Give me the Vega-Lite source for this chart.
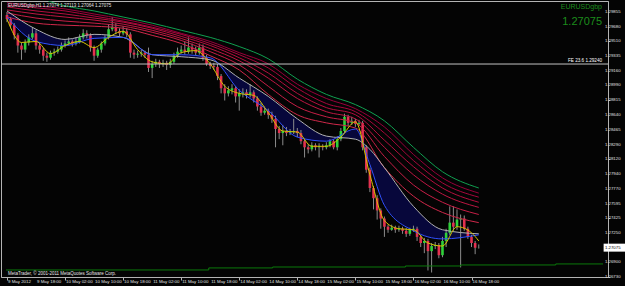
{
"$schema": "https://vega.github.io/schema/vega-lite/v6.json",
"width": 607, "height": 276,
"autosize": {"type": "none"},
"padding": {"left": 1, "top": 1, "right": 17, "bottom": 9},
"background": "#040404",
"config": {"view": {"stroke": "#b4b4b4", "fill": "#040404"}, "font": "Liberation Sans",
"axis": {"labels": false, "grid": false, "title": null}},
"datasets": {
"k": [
{"i":0,"o":1.29818,"h":1.29854,"l":1.29734,"c":1.29770},
{"i":1,"o":1.29770,"h":1.29794,"l":1.29662,"c":1.29698},
{"i":2,"o":1.29698,"h":1.29722,"l":1.29530,"c":1.29578},
{"i":3,"o":1.29578,"h":1.29602,"l":1.29374,"c":1.29458},
{"i":4,"o":1.29458,"h":1.29494,"l":1.29290,"c":1.29410},
{"i":5,"o":1.29410,"h":1.29530,"l":1.29374,"c":1.29494},
{"i":6,"o":1.29494,"h":1.29590,"l":1.29458,"c":1.29554},
{"i":7,"o":1.29554,"h":1.29674,"l":1.29530,"c":1.29602},
{"i":8,"o":1.29602,"h":1.29638,"l":1.29410,"c":1.29458},
{"i":9,"o":1.29458,"h":1.29494,"l":1.29362,"c":1.29410},
{"i":10,"o":1.29410,"h":1.29434,"l":1.29278,"c":1.29338},
{"i":11,"o":1.29338,"h":1.29374,"l":1.29266,"c":1.29314},
{"i":12,"o":1.29314,"h":1.29398,"l":1.29290,"c":1.29374},
{"i":13,"o":1.29374,"h":1.29422,"l":1.29338,"c":1.29386},
{"i":14,"o":1.29386,"h":1.29446,"l":1.29362,"c":1.29410},
{"i":15,"o":1.29410,"h":1.29494,"l":1.29386,"c":1.29458},
{"i":16,"o":1.29458,"h":1.29518,"l":1.29434,"c":1.29482},
{"i":17,"o":1.29482,"h":1.29554,"l":1.29458,"c":1.29506},
{"i":18,"o":1.29506,"h":1.29530,"l":1.29446,"c":1.29482},
{"i":19,"o":1.29482,"h":1.29554,"l":1.29458,"c":1.29506},
{"i":20,"o":1.29506,"h":1.29590,"l":1.29482,"c":1.29554},
{"i":21,"o":1.29554,"h":1.29650,"l":1.29530,"c":1.29602},
{"i":22,"o":1.29602,"h":1.29638,"l":1.29542,"c":1.29578},
{"i":23,"o":1.29578,"h":1.29602,"l":1.29386,"c":1.29434},
{"i":24,"o":1.29434,"h":1.29458,"l":1.29278,"c":1.29338},
{"i":25,"o":1.29338,"h":1.29434,"l":1.29314,"c":1.29410},
{"i":26,"o":1.29410,"h":1.29506,"l":1.29374,"c":1.29482},
{"i":27,"o":1.29482,"h":1.29578,"l":1.29458,"c":1.29554},
{"i":28,"o":1.29554,"h":1.29710,"l":1.29530,"c":1.29650},
{"i":29,"o":1.29650,"h":1.29794,"l":1.29626,"c":1.29674},
{"i":30,"o":1.29674,"h":1.29722,"l":1.29590,"c":1.29626},
{"i":31,"o":1.29626,"h":1.29662,"l":1.29566,"c":1.29602},
{"i":32,"o":1.29602,"h":1.29686,"l":1.29578,"c":1.29626},
{"i":33,"o":1.29626,"h":1.29662,"l":1.29554,"c":1.29590},
{"i":34,"o":1.29590,"h":1.29614,"l":1.29314,"c":1.29374},
{"i":35,"o":1.29374,"h":1.29410,"l":1.29302,"c":1.29350},
{"i":36,"o":1.29350,"h":1.29398,"l":1.29314,"c":1.29362},
{"i":37,"o":1.29362,"h":1.29410,"l":1.29326,"c":1.29374},
{"i":38,"o":1.29374,"h":1.29398,"l":1.29314,"c":1.29350},
{"i":39,"o":1.29350,"h":1.29434,"l":1.29146,"c":1.29194},
{"i":40,"o":1.29194,"h":1.29278,"l":1.29074,"c":1.29242},
{"i":41,"o":1.29242,"h":1.29302,"l":1.29206,"c":1.29266},
{"i":42,"o":1.29266,"h":1.29290,"l":1.29194,"c":1.29242},
{"i":43,"o":1.29242,"h":1.29290,"l":1.29206,"c":1.29254},
{"i":44,"o":1.29254,"h":1.29278,"l":1.29170,"c":1.29230},
{"i":45,"o":1.29230,"h":1.29302,"l":1.29194,"c":1.29266},
{"i":46,"o":1.29266,"h":1.29374,"l":1.29242,"c":1.29338},
{"i":47,"o":1.29338,"h":1.29434,"l":1.29314,"c":1.29386},
{"i":48,"o":1.29386,"h":1.29458,"l":1.29362,"c":1.29410},
{"i":49,"o":1.29410,"h":1.29506,"l":1.29350,"c":1.29386},
{"i":50,"o":1.29386,"h":1.29554,"l":1.29362,"c":1.29434},
{"i":51,"o":1.29434,"h":1.29482,"l":1.29362,"c":1.29410},
{"i":52,"o":1.29410,"h":1.29446,"l":1.29338,"c":1.29374},
{"i":53,"o":1.29374,"h":1.29482,"l":1.29350,"c":1.29434},
{"i":54,"o":1.29434,"h":1.29470,"l":1.29278,"c":1.29314},
{"i":55,"o":1.29314,"h":1.29350,"l":1.29218,"c":1.29242},
{"i":56,"o":1.29242,"h":1.29266,"l":1.29182,"c":1.29218},
{"i":57,"o":1.29218,"h":1.29254,"l":1.29170,"c":1.29206},
{"i":58,"o":1.29206,"h":1.29242,"l":1.29050,"c":1.29098},
{"i":59,"o":1.29098,"h":1.29122,"l":1.28894,"c":1.28954},
{"i":60,"o":1.28954,"h":1.29002,"l":1.28810,"c":1.28894},
{"i":61,"o":1.28894,"h":1.28978,"l":1.28858,"c":1.28930},
{"i":62,"o":1.28930,"h":1.29002,"l":1.28882,"c":1.28954},
{"i":63,"o":1.28954,"h":1.28978,"l":1.28786,"c":1.28858},
{"i":64,"o":1.28858,"h":1.28942,"l":1.28690,"c":1.28894},
{"i":65,"o":1.28894,"h":1.28954,"l":1.28846,"c":1.28906},
{"i":66,"o":1.28906,"h":1.28942,"l":1.28834,"c":1.28882},
{"i":67,"o":1.28882,"h":1.29002,"l":1.28846,"c":1.28906},
{"i":68,"o":1.28906,"h":1.28930,"l":1.28786,"c":1.28834},
{"i":69,"o":1.28834,"h":1.28858,"l":1.28690,"c":1.28738},
{"i":70,"o":1.28738,"h":1.28786,"l":1.28630,"c":1.28666},
{"i":71,"o":1.28666,"h":1.28738,"l":1.28642,"c":1.28690},
{"i":72,"o":1.28690,"h":1.28714,"l":1.28594,"c":1.28642},
{"i":73,"o":1.28642,"h":1.28678,"l":1.28546,"c":1.28594},
{"i":74,"o":1.28594,"h":1.28630,"l":1.28258,"c":1.28474},
{"i":75,"o":1.28474,"h":1.28510,"l":1.28354,"c":1.28426},
{"i":76,"o":1.28426,"h":1.28522,"l":1.28282,"c":1.28450},
{"i":77,"o":1.28450,"h":1.28498,"l":1.28390,"c":1.28426},
{"i":78,"o":1.28426,"h":1.28474,"l":1.28402,"c":1.28438},
{"i":79,"o":1.28438,"h":1.28594,"l":1.28414,"c":1.28450},
{"i":80,"o":1.28450,"h":1.28486,"l":1.28378,"c":1.28426},
{"i":81,"o":1.28426,"h":1.28462,"l":1.28294,"c":1.28330},
{"i":82,"o":1.28330,"h":1.28354,"l":1.28138,"c":1.28258},
{"i":83,"o":1.28258,"h":1.28294,"l":1.28186,"c":1.28234},
{"i":84,"o":1.28234,"h":1.28318,"l":1.28210,"c":1.28282},
{"i":85,"o":1.28282,"h":1.28306,"l":1.28222,"c":1.28258},
{"i":86,"o":1.28258,"h":1.28306,"l":1.28138,"c":1.28270},
{"i":87,"o":1.28270,"h":1.28294,"l":1.28222,"c":1.28258},
{"i":88,"o":1.28258,"h":1.28318,"l":1.28234,"c":1.28282},
{"i":89,"o":1.28282,"h":1.28354,"l":1.28258,"c":1.28330},
{"i":90,"o":1.28330,"h":1.28354,"l":1.28234,"c":1.28258},
{"i":91,"o":1.28258,"h":1.28390,"l":1.28222,"c":1.28354},
{"i":92,"o":1.28354,"h":1.28486,"l":1.28330,"c":1.28450},
{"i":93,"o":1.28450,"h":1.28654,"l":1.28426,"c":1.28618},
{"i":94,"o":1.28618,"h":1.28642,"l":1.28510,"c":1.28546},
{"i":95,"o":1.28546,"h":1.28618,"l":1.28522,"c":1.28570},
{"i":96,"o":1.28570,"h":1.28594,"l":1.28498,"c":1.28534},
{"i":97,"o":1.28534,"h":1.28582,"l":1.28510,"c":1.28546},
{"i":98,"o":1.28546,"h":1.28570,"l":1.28222,"c":1.28258},
{"i":99,"o":1.28258,"h":1.28282,"l":1.27958,"c":1.27994},
{"i":100,"o":1.27994,"h":1.28018,"l":1.27730,"c":1.27778},
{"i":101,"o":1.27778,"h":1.27802,"l":1.27526,"c":1.27658},
{"i":102,"o":1.27658,"h":1.27694,"l":1.27406,"c":1.27514},
{"i":103,"o":1.27514,"h":1.27538,"l":1.27298,"c":1.27418},
{"i":104,"o":1.27418,"h":1.27442,"l":1.27202,"c":1.27322},
{"i":105,"o":1.27322,"h":1.27346,"l":1.27250,"c":1.27286},
{"i":106,"o":1.27286,"h":1.27346,"l":1.27274,"c":1.27310},
{"i":107,"o":1.27310,"h":1.27334,"l":1.27250,"c":1.27286},
{"i":108,"o":1.27286,"h":1.27334,"l":1.27262,"c":1.27298},
{"i":109,"o":1.27298,"h":1.27322,"l":1.27238,"c":1.27274},
{"i":110,"o":1.27274,"h":1.27310,"l":1.27202,"c":1.27238},
{"i":111,"o":1.27238,"h":1.27310,"l":1.27214,"c":1.27286},
{"i":112,"o":1.27286,"h":1.27334,"l":1.27262,"c":1.27298},
{"i":113,"o":1.27298,"h":1.27322,"l":1.27154,"c":1.27202},
{"i":114,"o":1.27202,"h":1.27226,"l":1.27082,"c":1.27130},
{"i":115,"o":1.27130,"h":1.27190,"l":1.27010,"c":1.27154},
{"i":116,"o":1.27154,"h":1.27178,"l":1.26806,"c":1.27034},
{"i":117,"o":1.27034,"h":1.27130,"l":1.26782,"c":1.27094},
{"i":118,"o":1.27094,"h":1.27142,"l":1.27058,"c":1.27106},
{"i":119,"o":1.27106,"h":1.27130,"l":1.26950,"c":1.26986},
{"i":120,"o":1.26986,"h":1.27202,"l":1.26962,"c":1.27154},
{"i":121,"o":1.27154,"h":1.27298,"l":1.27082,"c":1.27250},
{"i":122,"o":1.27250,"h":1.27562,"l":1.27226,"c":1.27370},
{"i":123,"o":1.27370,"h":1.27562,"l":1.27274,"c":1.27322},
{"i":124,"o":1.27322,"h":1.27526,"l":1.27286,"c":1.27406},
{"i":125,"o":1.27406,"h":1.27466,"l":1.26842,"c":1.27418},
{"i":126,"o":1.27418,"h":1.27454,"l":1.27274,"c":1.27298},
{"i":127,"o":1.27298,"h":1.27322,"l":1.27178,"c":1.27202},
{"i":128,"o":1.27202,"h":1.27226,"l":1.27082,"c":1.27130},
{"i":129,"o":1.27130,"h":1.27154,"l":1.26998,"c":1.27074},
{"i":130,"o":1.27074,"h":1.27113,"l":1.27064,"c":1.27075}
],
"ma": [
{"i":0,"g":1.30154,"r1":1.29962,"r2":1.29938,"r3":1.29914,"r4":1.29878,"r5":1.29842,"r6":1.29794,"w":1.29866,"b":1.29794},
{"i":8,"g":1.30058,"r1":1.29926,"r2":1.29902,"r3":1.29866,"r4":1.29830,"r5":1.29782,"r6":1.29722,"w":1.29650,"b":1.29506},
{"i":12,"g":1.29974},
{"i":16,"g":1.29926,"r1":1.29890,"r2":1.29866,"r3":1.29830,"r4":1.29794,"r5":1.29746,"r6":1.29698,"w":1.29530,"b":1.29458},
{"i":24,"g":1.29866,"r1":1.29830,"r2":1.29806,"r3":1.29782,"r4":1.29758,"r5":1.29722,"r6":1.29686,"w":1.29590,"b":1.29542},
{"i":32,"g":1.29794,"r1":1.29770,"r2":1.29746,"r3":1.29734,"r4":1.29710,"r5":1.29686,"r6":1.29662,"w":1.29554,"b":1.29554},
{"i":40,"g":1.29722,"r1":1.29698,"r2":1.29674,"r3":1.29662,"r4":1.29638,"r5":1.29614,"r6":1.29578,"w":1.29350,"b":1.29350},
{"i":48,"g":1.29638,"r1":1.29602,"r2":1.29590,"r3":1.29566,"r4":1.29542,"r5":1.29518,"r6":1.29482,"w":1.29326,"b":1.29350},
{"i":56,"g":1.29554,"r1":1.29506,"r2":1.29482,"r3":1.29458,"r4":1.29422,"r5":1.29386,"r6":1.29338,"w":1.29290,"b":1.29314},
{"i":64,"g":1.29446,"r1":1.29374,"r2":1.29350,"r3":1.29314,"r4":1.29278,"r5":1.29230,"r6":1.29170,"w":1.29074,"b":1.28930},
{"i":72,"g":1.29302,"r1":1.29242,"r2":1.29194,"r3":1.29134,"r4":1.29074,"r5":1.28978,"r6":1.28882,"w":1.28858,"b":1.28690},
{"i":80,"g":1.29062,"r1":1.29002,"r2":1.28954,"r3":1.28894,"r4":1.28834,"r5":1.28738,"r6":1.28642,"w":1.28594,"b":1.28378},
{"i":88,"g":1.28882,"r1":1.28834,"r2":1.28774,"r3":1.28726,"r4":1.28678,"r5":1.28618,"r6":1.28546,"w":1.28390,"b":1.28330},
{"i":96,"g":1.28762,"r1":1.28714,"r2":1.28678,"r3":1.28642,"r4":1.28594,"r5":1.28546,"r6":1.28486,"w":1.28354,"b":1.28474},
{"i":100,"w":1.28234,"b":1.28054},
{"i":104,"g":1.28570,"r1":1.28498,"r2":1.28426,"r3":1.28342,"r4":1.28258,"r5":1.28150,"r6":1.28018,"w":1.28018,"b":1.27574},
{"i":112,"g":1.28258,"r1":1.28174,"r2":1.28102,"r3":1.28030,"r4":1.27934,"r5":1.27814,"r6":1.27682,"w":1.27562,"b":1.27274},
{"i":120,"g":1.27970,"r1":1.27898,"r2":1.27838,"r3":1.27778,"r4":1.27706,"r5":1.27610,"r6":1.27490,"w":1.27286,"b":1.27178},
{"i":130,"g":1.27778,"r1":1.27718,"r2":1.27670,"r3":1.27610,"r4":1.27550,"r5":1.27466,"r6":1.27370,"w":1.27238,"b":1.27226}
],
"yl": [
{"i":0,"v":1.29770},{"i":4,"v":1.29494},{"i":8,"v":1.29506},{"i":12,"v":1.29362},{"i":16,"v":1.29458},
{"i":20,"v":1.29506},{"i":24,"v":1.29434},{"i":28,"v":1.29554},{"i":32,"v":1.29626},{"i":36,"v":1.29410},
{"i":40,"v":1.29266},{"i":44,"v":1.29242},{"i":48,"v":1.29374},{"i":52,"v":1.29398},{"i":56,"v":1.29242},
{"i":60,"v":1.28978},{"i":64,"v":1.28894},{"i":68,"v":1.28870},{"i":72,"v":1.28666},{"i":76,"v":1.28450},
{"i":80,"v":1.28438},{"i":84,"v":1.28270},{"i":88,"v":1.28270},{"i":92,"v":1.28378},{"i":96,"v":1.28558},
{"i":100,"v":1.27934},{"i":104,"v":1.27394},{"i":108,"v":1.27298},{"i":112,"v":1.27286},{"i":116,"v":1.27130},
{"i":120,"v":1.27094},{"i":124,"v":1.27322},{"i":128,"v":1.27250},{"i":130,"v":1.27154}
],
"base": [
{"i":-0.27,"v":1.26812},{"i":55.6,"v":1.26836},{"i":73.2,"v":1.26847},{"i":109.8,"v":1.26859},
{"i":125,"v":1.26871},{"i":151.2,"v":1.26883},{"i":164.23,"v":1.26883}
],
"xt": [
{"i":0,"t":"9 May 2012"},{"i":8,"t":"9 May 18:00"},{"i":16,"t":"10 May 02:00"},{"i":24,"t":"10 May 10:00"},
{"i":32,"t":"10 May 18:00"},{"i":40,"t":"11 May 02:00"},{"i":48,"t":"11 May 10:00"},{"i":56,"t":"11 May 18:00"},
{"i":64,"t":"14 May 02:00"},{"i":72,"t":"14 May 10:00"},{"i":80,"t":"14 May 18:00"},{"i":88,"t":"15 May 02:00"},
{"i":96,"t":"15 May 10:00"},{"i":104,"t":"15 May 18:00"},{"i":112,"t":"16 May 02:00"},{"i":120,"t":"16 May 10:00"},
{"i":128,"t":"16 May 18:00"}
],
"yt": [
{"p":1.26730},{"p":1.26900},{"p":1.27250},{"p":1.27425},{"p":1.27595},{"p":1.27770},{"p":1.27940},
{"p":1.28120},{"p":1.28290},{"p":1.28465},{"p":1.28640},{"p":1.28815},{"p":1.28990},{"p":1.29160},
{"p":1.29335},{"p":1.29510},{"p":1.29680},{"p":1.29855}
]
},
"layer": [
{
"data": {"name": "ma"},
"transform": [{"filter": "isValid(datum.w) && isValid(datum.b)"}],
"mark": {"type": "area", "color": "#0a0a60", "opacity": 0.6, "interpolate": "monotone"},
"encoding": {
"x": {"field": "i", "type": "quantitative", "title": null,
"scale": {"domain": [-0.27, 164.23], "nice": false, "zero": false},
"axis": {"values": [0,8,16,24,32,40,48,56,64,72,80,88,96,104,112,120,128],
"labels": false, "tickSize": 3, "tickColor": "#b4b4b4", "domainColor": "#b4b4b4", "grid": false, "title": null}},
"y": {"field": "w", "type": "quantitative", "title": null,
"scale": {"domain": [1.26729, 1.29983], "nice": false, "zero": false},
"axis": {"orient": "right", "values": [1.26730,1.26900,1.27075,1.27250,1.27425,1.27595,1.27770,1.27940,1.28120,1.28290,1.28465,1.28640,1.28815,1.28990,1.29160,1.29335,1.29510,1.29680,1.29855],
"labels": false, "tickSize": 2, "tickColor": "#b4b4b4", "domainColor": "#b4b4b4", "grid": false, "title": null}},
"y2": {"field": "b"}
}
},
{
"data": {"name": "k"},
"mark": {"type": "rule", "color": "#8c8c8c", "strokeWidth": 1},
"encoding": {
"x": {"field": "i", "type": "quantitative", "title": null, "scale": {"domain": [-0.27, 164.23], "nice": false, "zero": false}},
"y": {"field": "l", "type": "quantitative", "title": null, "scale": {"domain": [1.26729, 1.29983], "nice": false, "zero": false}},
"y2": {"field": "h"}
}
},
{
"data": {"name": "k"},
"mark": {"type": "bar", "size": 2.6},
"encoding": {
"x": {"field": "i", "type": "quantitative", "title": null, "scale": {"domain": [-0.27, 164.23], "nice": false, "zero": false}},
"y": {"field": "o", "type": "quantitative", "title": null, "scale": {"domain": [1.26729, 1.29983], "nice": false, "zero": false}},
"y2": {"field": "c"},
"color": {"condition": {"test": "datum.c >= datum.o", "value": "#2fd23a"}, "value": "#e3314f"}
}
},
{
"data": {"name": "ma"},
"transform": [{"fold": ["g","r1","r2","r3","r4","r5","r6","w","b"], "as": ["s","v"]}, {"filter": "isValid(datum.v)"}],
"mark": {"type": "line", "strokeWidth": 1, "interpolate": "monotone", "clip": true},
"encoding": {
"x": {"field": "i", "type": "quantitative", "title": null, "scale": {"domain": [-0.27, 164.23], "nice": false, "zero": false}},
"y": {"field": "v", "type": "quantitative", "title": null, "scale": {"domain": [1.26729, 1.29983], "nice": false, "zero": false}},
"color": {"field": "s", "type": "nominal", "legend": null,
"scale": {"domain": ["g","r1","r2","r3","r4","r5","r6","w","b"],
"range": ["#10a050","#98003a","#a8063c","#b40e3e","#bc1642","#c61e46","#d0284a","#b0b0b0","#3050ff"]}}
}
},
{
"data": {"name": "yl"},
"mark": {"type": "line", "color": "#d6c400", "strokeWidth": 1, "interpolate": "monotone"},
"encoding": {
"x": {"field": "i", "type": "quantitative", "title": null, "scale": {"domain": [-0.27, 164.23], "nice": false, "zero": false}},
"y": {"field": "v", "type": "quantitative", "title": null, "scale": {"domain": [1.26729, 1.29983], "nice": false, "zero": false}}
}
},
{
"data": {"name": "base"},
"mark": {"type": "line", "color": "#0b7a0b", "strokeWidth": 1, "interpolate": "step-after", "clip": true},
"encoding": {
"x": {"field": "i", "type": "quantitative", "title": null, "scale": {"domain": [-0.27, 164.23], "nice": false, "zero": false}},
"y": {"field": "v", "type": "quantitative", "title": null, "scale": {"domain": [1.26729, 1.29983], "nice": false, "zero": false}}
}
},
{
"data": {"values": [{"level": 1.29240, "label": "FE 23.6 1.29240"}]},
"layer": [
{"mark": {"type": "rule", "color": "#c4c4c4", "strokeWidth": 1},
"encoding": {"y": {"field": "level", "type": "quantitative", "title": null, "scale": {"domain": [1.26729, 1.29983], "nice": false, "zero": false}}}},
{"mark": {"type": "text", "align": "right", "baseline": "bottom", "dy": -1, "dx": -1, "fontSize": 4.6, "color": "#ffffff"},
"encoding": {"x": {"datum": 164.23, "type": "quantitative"},
"y": {"field": "level", "type": "quantitative"}, "text": {"field": "label"}}}
]
},
{
"data": {"name": "xt"},
"mark": {"type": "text", "align": "left", "baseline": "top", "dx": 1, "dy": 3, "fontSize": 4.4, "color": "#e0e0e0"},
"encoding": {"x": {"field": "i", "type": "quantitative"}, "y": {"datum": 1.26729, "type": "quantitative"}, "text": {"field": "t"}}
},
{
"data": {"name": "yt"},
"mark": {"type": "text", "align": "left", "baseline": "middle", "dx": 2, "fontSize": 4.3, "color": "#e0e0e0"},
"encoding": {"x": {"datum": 164.23, "type": "quantitative"}, "y": {"field": "p", "type": "quantitative"}, "text": {"field": "p", "format": ".5f"}}
},
{
"data": {"values": [{"t": "EURUSDgbp,H1 1.27074 1.27113 1.27064 1.27075"}]},
"mark": {"type": "text", "align": "left", "baseline": "top", "dx": 2, "dy": 1.5, "fontSize": 4.5, "color": "#e6e6e6"},
"encoding": {"x": {"datum": -0.27, "type": "quantitative"}, "y": {"datum": 1.29983, "type": "quantitative"}, "text": {"field": "t"}}
},
{
"data": {"values": [{"t": "MetaTrader, © 2001-2011 MetaQuotes Software Corp."}]},
"mark": {"type": "text", "align": "left", "baseline": "bottom", "dx": 2, "dy": -1, "fontSize": 4.5, "color": "#e6e6e6"},
"encoding": {"x": {"datum": -0.27, "type": "quantitative"}, "y": {"datum": 1.26729, "type": "quantitative"}, "text": {"field": "t"}}
},
{
"data": {"values": [{"t": "EURUSDgbp"}]},
"mark": {"type": "text", "align": "right", "baseline": "top", "dx": -1, "dy": 2, "fontSize": 7, "color": "#1c8c1c"},
"encoding": {"x": {"datum": 164.23, "type": "quantitative"}, "y": {"datum": 1.29983, "type": "quantitative"}, "text": {"field": "t"}}
},
{
"data": {"values": [{"t": "1.27075"}]},
"mark": {"type": "text", "align": "right", "baseline": "top", "dx": -1, "dy": 15, "fontSize": 11, "color": "#1c8c1c"},
"encoding": {"x": {"datum": 164.23, "type": "quantitative"}, "y": {"datum": 1.29983, "type": "quantitative"}, "text": {"field": "t"}}
},
{
"data": {"values": [{"p": 1.27075, "t": "1.27075"}]},
"layer": [
{"mark": {"type": "rect", "color": "#ffffff"},
"encoding": {"x": {"datum": 164.4, "type": "quantitative"}, "x2": {"datum": 170.5},
"y": {"datum": 1.27122, "type": "quantitative"}, "y2": {"datum": 1.27028}}},
{"mark": {"type": "text", "align": "left", "baseline": "middle", "dx": 2, "fontSize": 4.3, "color": "#000000"},
"encoding": {"x": {"datum": 164.23, "type": "quantitative"}, "y": {"field": "p", "type": "quantitative"}, "text": {"field": "t"}}}
]
}
]
}
